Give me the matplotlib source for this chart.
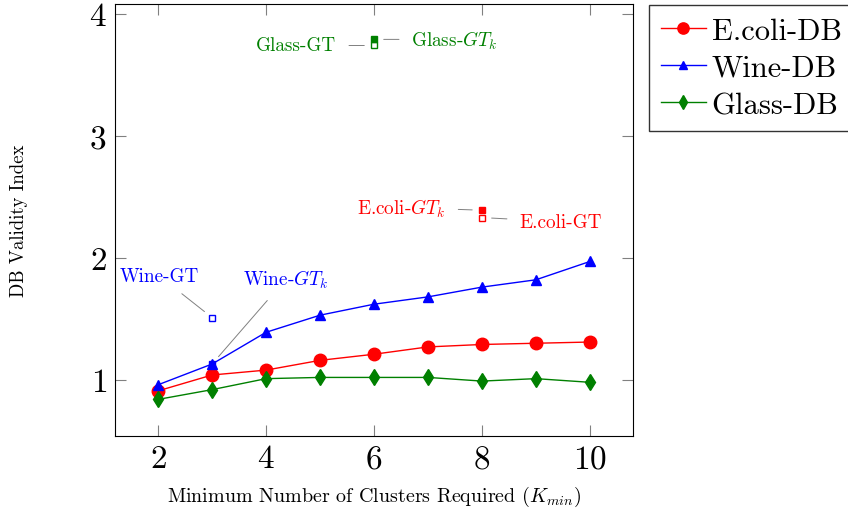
import numpy as np
import matplotlib.pyplot as plt

plt.rcParams['font.family'] = 'cmr10'
plt.rcParams['mathtext.fontset'] = 'cm'
plt.rcParams['axes.formatter.use_mathtext'] = True

k = [2, 3, 4, 5, 6, 7, 8, 9, 10]
ecoli_db = [0.91, 1.04, 1.08, 1.16, 1.21, 1.27, 1.29, 1.30, 1.31]
wine_db = [0.96, 1.13, 1.39, 1.53, 1.62, 1.68, 1.76, 1.82, 1.97]
glass_db = [0.84, 0.92, 1.01, 1.02, 1.02, 1.02, 0.99, 1.01, 0.98]

# ground truth points (k, value)
wine_gt = (3, 1.51)
wine_gtk = (3, 1.13)
ecoli_gt = (8, 2.33)
ecoli_gtk = (8, 2.39)
glass_gt = (6, 3.74)
glass_gtk = (6, 3.79)

fig = plt.figure(figsize=(8.48, 5.10), dpi=100)
ax = fig.add_axes([115/848, 1-437/510, 518/848, 432/510])

ax.plot(k, ecoli_db, color='red', marker='o', markersize=9, lw=1, label='E.coli-DB')
ax.plot(k, wine_db, color='blue', marker='^', markersize=7, lw=1, label='Wine-DB')
ax.plot(k, glass_db, color='green', marker='d', markersize=8, lw=1, label='Glass-DB')

def gt(p, col, filled, label, dx, dy, ha, va):
    ax.plot([p[0]], [p[1]], marker='s', markersize=4.5, color=col,
            mfc=col if filled else 'white', mew=1, ls='none')
    ax.annotate(label, xy=p, xytext=(dx, dy), textcoords='offset points',
                ha=ha, va=va, color=col, fontsize=13.8,
                arrowprops=dict(arrowstyle='-', color='gray', lw=0.7,
                                shrinkA=7, shrinkB=7))

gt(glass_gt, 'green', False, 'Glass-GT', -27, 0, 'right', 'center')
gt(glass_gtk, 'green', True, r'Glass-$GT_k$', 27, 0, 'left', 'center')
gt(ecoli_gtk, 'red', True, r'E.coli-$GT_k$', -26, 2, 'right', 'center')
gt(ecoli_gt, 'red', False, 'E.coli-GT', 27, -3, 'left', 'center')
gt(wine_gt, 'blue', False, 'Wine-GT', -38, 30, 'center', 'center')
gt(wine_gtk, 'blue', True, r'Wine-$GT_k$', 53, 61, 'center', 'center')

ax.set_xlim(1.2, 10.8)
ax.set_ylim(0.54, 4.08)
ax.set_xticks([2, 4, 6, 8, 10])
ax.set_yticks([1, 2, 3, 4])
ax.tick_params(direction='in', labelsize=24, top=True, right=True, length=8,
               width=0.8, color='gray', pad=6)
ax.set_xlabel(r'Minimum Number of Clusters Required ($K_{min}$)', fontsize=14.4)
ax.set_ylabel('DB Validity Index', fontsize=13.5)
ax.xaxis.set_label_coords(0.5, -0.11)
ax.yaxis.set_label_coords(-0.168, 0.5)

fig.legend(loc='upper left', bbox_to_anchor=(649/848, 1-6/510), fontsize=22,
           frameon=True, fancybox=False, edgecolor='black', handlelength=1.45,
           borderpad=0.4, labelspacing=0.32, handletextpad=0.2, borderaxespad=0,
           markerscale=0.9)

fig.savefig('out.png', dpi=100)
